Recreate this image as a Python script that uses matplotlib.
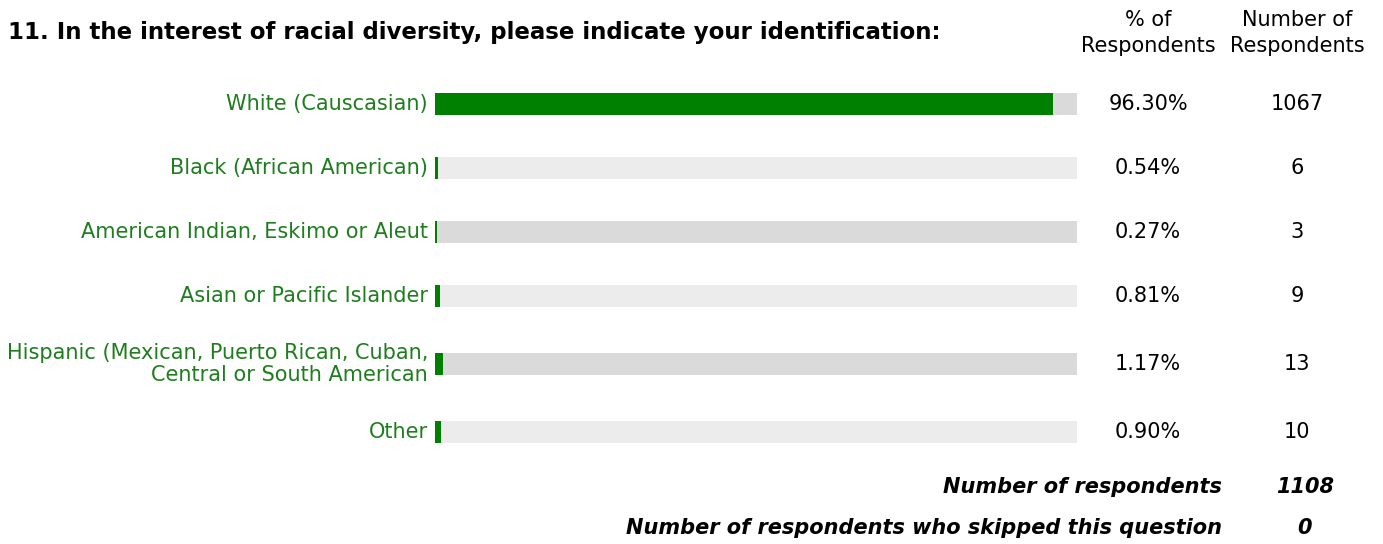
import matplotlib
matplotlib.use("Agg")
import matplotlib.pyplot as plt
import numpy as np

title = "11. In the interest of racial diversity, please indicate your identification:"
categories = ["White (Causcasian)", "Black (African American)",
              "American Indian, Eskimo or Aleut", "Asian or Pacific Islander",
              "Hispanic (Mexican, Puerto Rican, Cuban,\nCentral or South American",
              "Other"]
percents = [96.30, 0.54, 0.27, 0.81, 1.17, 0.90]
counts = [1067, 6, 3, 9, 13, 10]
total_respondents = 1108
skipped = 0

W, H = 1383, 544
fig = plt.figure(figsize=(W / 100, H / 100), dpi=100)

green = "#008000"
bg_colors = ["#dadada", "#ececec"]
fs = 15

# axes in pixel units (y grows downward)
ax = fig.add_axes([435 / W, 0, 642 / W, 1])
ax.set_xlim(0, 100)
ax.set_ylim(H, 0)
ax.axis("off")

# row centres: two-line labels get a bit more room
row_h = np.array([72 if "\n" in c else 64 for c in categories])
centers = 104 + np.concatenate([[0], np.cumsum((row_h[:-1] + row_h[1:]) / 2)])

for i, (cat, p, n) in enumerate(zip(categories, percents, counts)):
    y = centers[i]
    bg = bg_colors[i % 2]
    ax.barh(y, 100, height=22, color=bg, left=0)
    ax.barh(y, p, height=22, color=green, left=0)
    fig.text(428 / W, 1 - y / H, cat, ha="right", va="center", color="#1e7d1e",
             fontsize=fs, linespacing=1.15)
    fig.text(1148 / W, 1 - y / H, f"{p:.2f}%", ha="center", va="center",
             fontsize=fs, color="black")
    fig.text(1297 / W, 1 - y / H, f"{n}", ha="center", va="center",
             fontsize=fs, color="black")

fig.text(8 / W, 1 - 33 / H, title, ha="left", va="center", fontsize=16.5,
         fontweight="bold")
fig.text(1148 / W, 1 - 33 / H, "% of\nRespondents", ha="center", va="center",
         fontsize=fs, linespacing=1.35)
fig.text(1297 / W, 1 - 33 / H, "Number of\nRespondents", ha="center",
         va="center", fontsize=fs, linespacing=1.35)

fig.text(1222 / W, 1 - 487 / H, "Number of respondents", ha="right",
         va="center", fontsize=fs, fontweight="bold", fontstyle="italic")
fig.text(1305 / W, 1 - 487 / H, f"{total_respondents}", ha="center",
         va="center", fontsize=fs, fontweight="bold", fontstyle="italic")
fig.text(1222 / W, 1 - 528 / H, "Number of respondents who skipped this question",
         ha="right", va="center", fontsize=fs, fontweight="bold",
         fontstyle="italic")
fig.text(1305 / W, 1 - 528 / H, f"{skipped}", ha="center", va="center",
         fontsize=fs, fontweight="bold", fontstyle="italic")

fig.savefig("out.png", dpi=100)
